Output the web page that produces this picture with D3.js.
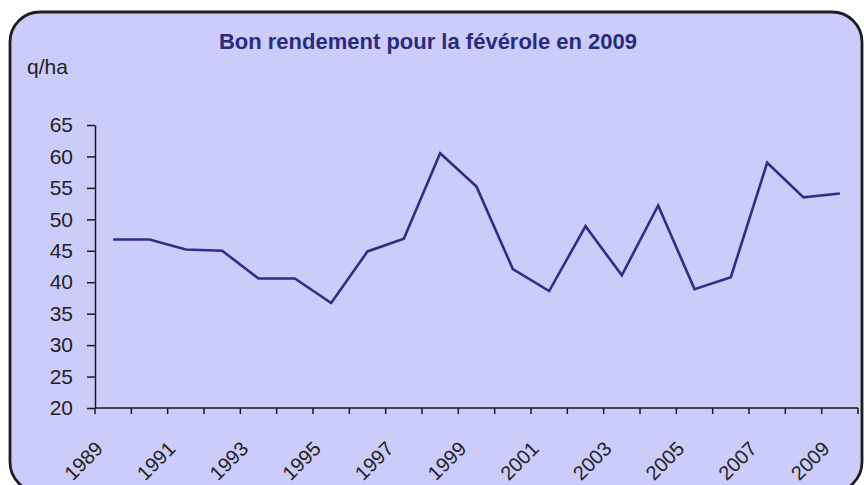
<!DOCTYPE html>
<html>
<head>
<meta charset="utf-8">
<script src="https://cdn.jsdelivr.net/npm/d3@7"></script>
<style>
  body { margin: 0; background: #fff; }
  svg { display: block; }
  text { font-family: "Liberation Sans", Arial, sans-serif; }
</style>
</head>
<body>
<div id="chart"></div>
<script>
// rendement féverole, q/ha
const years = d3.range(1989, 2010)
const yields = [46.8, 46.8, 45.2, 45.0, 40.6, 40.6, 36.7, 44.9, 46.9, 60.5, 55.2,
                42.1, 38.6, 48.9, 41.1, 52.2, 38.9, 40.8, 59.0, 53.5, 54.1]
const yTicks = [20, 25, 30, 35, 40, 45, 50, 55, 60, 65]
const xLabels = years.filter(y => y % 2 === 1)
const title = "Bon rendement pour la févérole en 2009"
const unit = "q/ha"

const width = 864
const height = 485
const margin = {top: 125, right: 6, bottom: 77, left: 95}

const svg = d3.select("#chart")
              .append("svg")
              .attr("width", width)
              .attr("height", height)

// cadre arrondi
svg.append("rect")
   .attr("x", 10).attr("y", 12)
   .attr("width", 852).attr("height", 480)
   .attr("rx", 30).attr("ry", 30)
   .attr("fill", "#ccccfa")
   .attr("stroke", "#1e1e1e")
   .attr("stroke-width", 2.8)

const x = d3.scaleBand()
            .domain(years)
            .range([margin.left, width - margin.right])
            .padding(0)

const y = d3.scaleLinear()
            .domain([20, 65])
            .range([height - margin.bottom, margin.top])

// axe Y
const yAxis = svg.append("g")
   .attr("transform", "translate(" + margin.left + ",0)")
   .call(d3.axisLeft(y).tickValues(yTicks).tickSize(8).tickPadding(14).tickSizeOuter(0))
yAxis.select(".domain").attr("stroke", "#1a1a1a").attr("stroke-width", 1.5)
yAxis.selectAll(".tick line").attr("stroke", "#1a1a1a").attr("stroke-width", 1.5)
yAxis.selectAll(".tick text")
     .attr("font-size", 21)
     .attr("fill", "#222")
     .attr("font-family", "Liberation Sans, Arial, sans-serif")

// axe X : traits entre catégories
const y0 = y(20)
const edges = years.map(d => x(d)).concat([x(years[years.length - 1]) + x.bandwidth()])
svg.append("line")
   .attr("x1", x.range()[0]).attr("x2", x.range()[1])
   .attr("y1", y0).attr("y2", y0)
   .attr("stroke", "#1a1a1a").attr("stroke-width", 1.5)
svg.append("g").selectAll("line")
   .data(edges)
   .enter()
   .append("line")
   .attr("x1", d => d).attr("x2", d => d)
   .attr("y1", y0).attr("y2", y0 + 6)
   .attr("stroke", "#1a1a1a").attr("stroke-width", 1.5)

svg.append("g").selectAll("text")
   .data(xLabels)
   .enter()
   .append("text")
   .attr("transform", d => "translate(" + (x(d) + x.bandwidth() / 2 - 9) + "," + (y0 + 42) + ") rotate(-45)")
   .attr("text-anchor", "end")
   .attr("font-size", 20)
   .attr("fill", "#222")
   .text(d => d)

// courbe
const line = d3.line()
               .x((d, i) => x(years[i]) + x.bandwidth() / 2)
               .y(d => y(d))
svg.append("path")
   .datum(yields)
   .attr("d", line)
   .attr("fill", "none")
   .attr("stroke", "#2e2e86")
   .attr("stroke-width", 2.6)
   .attr("stroke-linejoin", "miter")

// titre et unité
svg.append("text")
   .attr("x", 428).attr("y", 49)
   .attr("text-anchor", "middle")
   .attr("font-size", 22)
   .attr("font-weight", "bold")
   .attr("fill", "#2b2b7c")
   .text(title)

svg.append("text")
   .attr("x", 27).attr("y", 74)
   .attr("font-size", 21)
   .attr("fill", "#222")
   .text(unit)
</script>
</body>
</html>
